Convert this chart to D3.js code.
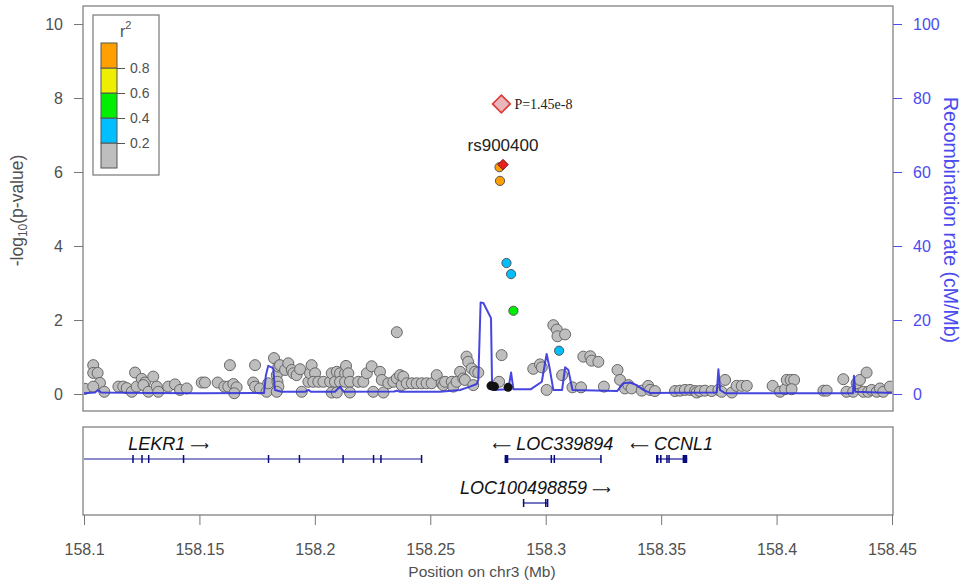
<!DOCTYPE html>
<html lang="en">
<head>
<meta charset="utf-8">
<title>rs900400 regional association plot</title>
<script src="https://cdn.jsdelivr.net/npm/d3@7"></script>
<style>
  body { margin: 0; background: #fff; }
  svg { display: block; font-family: "Liberation Sans", Arial, Helvetica, sans-serif; }
</style>
</head>
<body>
<script>

// SNPs with r2 < 0.2 (position in Mb, -log10 p)
var grayPos = [158.1004,158.1040,158.1040,158.1059,158.1069,158.1040,158.1088,158.1149,158.1170,158.1185,
  158.1207,158.1221,158.1228,158.1250,158.1264,158.1257,158.1279,158.1300,158.1315,158.1322,
  158.1365,158.1394,158.1416,158.1445,158.1510,158.1524,158.1579,158.1608,158.1625,158.1647,
  158.1661,158.1651,158.1632,158.1733,158.1741,158.1741,158.1762,158.1791,158.1798,158.1823,
  158.1835,158.1838,158.1842,158.1842,158.1835,158.1849,158.1871,158.1885,158.1900,158.1907,
  158.1921,158.1936,158.1943,158.1972,158.1979,158.1986,158.2001,158.1993,158.2015,158.2037,
  158.2066,158.2073,158.2073,158.2087,158.2095,158.2095,158.2109,158.2109,158.2131,158.2131,
  158.2135,158.2145,158.2152,158.2152,158.2188,158.2210,158.2225,158.2246,158.2253,158.2282,
  158.2290,158.2297,158.2318,158.2340,158.2355,158.2355,158.2369,158.2376,158.2383,158.2398,
  158.2420,158.2441,158.2463,158.2484,158.2506,158.2528,158.2549,158.2556,158.2564,158.2593,
  158.2600,158.2614,158.2629,158.2643,158.2650,158.2657,158.2664,158.2679,158.2686,158.2694,
  158.2708,158.2798,158.2809,158.2946,158.2975,158.2983,158.3004,158.3033,158.3048,158.3051,
  158.3084,158.3071,158.3116,158.3153,158.3163,158.3193,158.3199,158.3228,158.3252,158.3311,
  158.3322,158.3343,158.3358,158.3372,158.3416,158.3444,158.3452,158.3473,158.3560,158.3582,
  158.3603,158.3625,158.3647,158.3654,158.3668,158.3690,158.3719,158.3748,158.3762,158.3777,
  158.3806,158.3827,158.3849,158.3871,158.3983,158.4015,158.4037,158.4044,158.4061,158.4076,
  158.4065,158.4203,158.4217,158.4289,158.4303,158.4332,158.4347,158.4361,158.4376,158.4390,
  158.4397,158.4412,158.4434,158.4448,158.4462,158.4491];
var grayLogP = [0.14,0.78,0.57,0.57,0.30,0.20,0.06,0.20,0.20,0.16,
  0.06,0.58,0.20,0.41,0.31,0.24,0.06,0.47,0.20,0.06,
  0.20,0.26,0.11,0.15,0.31,0.31,0.31,0.20,0.20,0.27,
  0.18,0.02,0.78,0.31,0.78,0.20,0.15,0.06,0.29,0.97,
  0.51,0.33,0.74,0.20,0.06,0.78,0.65,0.83,0.65,0.56,
  0.51,0.67,0.06,0.33,0.56,0.78,0.56,0.33,0.33,0.33,
  0.33,0.56,0.04,0.33,0.60,0.04,0.56,0.33,0.56,0.33,
  0.76,0.56,0.33,0.04,0.33,0.33,0.56,0.75,0.06,0.60,
  0.38,0.04,0.29,0.33,1.67,0.42,0.51,0.24,0.47,0.29,
  0.29,0.29,0.29,0.29,0.29,0.51,0.29,0.24,0.33,0.33,
  0.20,0.33,0.60,0.42,0.38,1.01,0.87,0.69,0.24,0.60,
  0.58,0.33,1.05,0.68,0.80,0.72,0.11,1.86,1.74,1.56,
  1.61,0.51,0.18,0.18,1.01,1.02,0.90,0.87,0.20,0.65,
  0.38,0.15,0.24,0.15,0.09,0.22,0.11,0.08,0.08,0.09,
  0.11,0.11,0.08,0.04,0.08,0.09,0.08,0.11,0.06,0.38,
  0.04,0.22,0.22,0.22,0.22,0.06,0.13,0.38,0.38,0.38,
  0.13,0.09,0.09,0.40,0.06,0.06,0.29,0.38,0.06,0.58,
  0.06,0.11,0.06,0.15,0.06,0.20];

// SNPs without LD information
var naPos = [158.2763, 158.2778, 158.2837];
var naLogP = [0.22, 0.20, 0.18];

// SNPs in LD with the lead SNP
var ldPos = [158.2830, 158.2850, 158.3058, 158.2860, 158.2802, 158.2800];
var ldLogP = [3.54, 3.24, 1.17, 2.25, 5.76, 6.13];
var ldR2 = [0.30, 0.30, 0.30, 0.50, 0.90, 0.90];

// lead SNP and combined p-value
var leadName = "rs900400";
var leadPos = 158.2815;
var leadLogP = 6.20;
var combinedPos = 158.2808;
var combinedLogP = 7.84;
var combinedLabel = "P=1.45e-8";

// recombination rate (cM/Mb)
var recPos = [158.1000,158.1048,158.1061,158.1074,158.1286,158.1502,158.1780,158.1788,158.1798,158.1813,
  158.1820,158.1827,158.1856,158.1957,158.1972,158.1983,158.2087,158.2109,158.2126,158.2343,
  158.2355,158.2369,158.2542,158.2629,158.2672,158.2701,158.2708,158.2718,158.2730,158.2763,
  158.2768,158.2838,158.2850,158.2860,158.2936,158.2983,158.3004,158.3016,158.3033,158.3071,
  158.3084,158.3098,158.3116,158.3309,158.3336,158.3365,158.3394,158.3423,158.3452,158.3741,
  158.3748,158.3755,158.3777,158.4331,158.4335,158.4341,158.4535];
var recRate = [0.2,0.4,1.1,0.4,0.3,0.2,0.3,5.1,7.6,7.2,
  6.8,1.1,0.6,0.6,1.1,0.6,0.6,2.0,0.6,0.7,
  0.9,0.6,0.6,1.1,2.0,2.7,3.8,24.7,24.6,20.5,
  1.1,1.3,5.8,1.3,1.3,3.3,10.8,7.3,1.1,1.1,
  7.2,6.5,1.1,0.8,2.9,3.1,2.4,1.1,0.3,0.4,
  6.7,1.1,0.2,0.2,4.9,0.6,0.2];

// genes
var geneNames = ["LEKR1", "LOC339894", "CCNL1", "LOC100498859"];
var geneStart = [158.0270, 158.2822, 158.3478, 158.2901];
var geneEnd = [158.2463, 158.3240, 158.3613, 158.3009];
var geneStrand = ["+", "-", "-", "+"];
var geneRow = [0, 0, 0, 1];
var geneExons = [
  [[158.1209,158.1213],[158.1248,158.1254],[158.1277,158.1281],[158.1428,158.1432],[158.1796,158.1800],
   [158.1930,158.1936],[158.2119,158.2123],[158.2251,158.2255],[158.2283,158.2287],[158.2459,158.2463]],
  [[158.2822,158.2838],[158.3021,158.3025],[158.3034,158.3038],[158.3236,158.3240]],
  [[158.3478,158.3488],[158.3495,158.3502],[158.3522,158.3526],[158.3531,158.3535],[158.3593,158.3613]],
  [[158.2901,158.2905],[158.2997,158.3001],[158.3005,158.3009]]
];

// ticks and legend
var xTicks = [158.1, 158.15, 158.2, 158.25, 158.3, 158.35, 158.4, 158.45];
var yTicks = [0, 2, 4, 6, 8, 10];
var recTicks = [0, 20, 40, 60, 80, 100];
var r2Breaks = [0.2, 0.4, 0.6, 0.8];
var r2Colors = ["#BEBEBE", "#00BFFF", "#00EE00", "#EEEE00", "#FFA000"];

var w = 974;
var h = 586;
var textGray = "#505050";
var axisBlue = "#4B4BEE";
var lineBlue = "#3333DD";

//Scales
var xScale = d3.scaleLinear().domain([158.1, 158.45]).range([84, 892]);
var yScale = d3.scaleLinear().domain([0, 10]).range([394, 24]);
var recScale = d3.scaleLinear().domain([0, 100]).range([394, 24]);
var colorScale = d3.scaleThreshold().domain(r2Breaks).range(r2Colors);

var frame = {left: 83, right: 893, top: 6, bottom: 411};
var genePanel = {top: 427, bottom: 515};

var svg = d3.select("body").append("svg")
  .attr("width", w)
  .attr("height", h);

svg.append("defs").append("clipPath").attr("id", "plotclip")
  .append("rect")
  .attr("x", frame.left + 1).attr("y", frame.top)
  .attr("width", frame.right - frame.left - 2).attr("height", genePanel.bottom - frame.top);

//Left axis
var yAxis = svg.append("g")
  .attr("transform", "translate(" + frame.left + ",0)")
  .call(d3.axisLeft(yScale).tickValues(yTicks).tickSize(9).tickPadding(11));
yAxis.select(".domain").remove();
yAxis.selectAll("line").attr("stroke", "#777");
yAxis.selectAll("text").attr("fill", textGray).attr("font-size", 16)
  .attr("font-family", "Liberation Sans, Arial, sans-serif");

//Right axis (recombination rate)
var rAxis = svg.append("g")
  .attr("transform", "translate(" + frame.right + ",0)")
  .call(d3.axisRight(recScale).tickValues(recTicks).tickSize(9).tickPadding(11));
rAxis.select(".domain").remove();
rAxis.selectAll("line").attr("stroke", axisBlue);
rAxis.selectAll("text").attr("fill", axisBlue).attr("font-size", 16)
  .attr("font-family", "Liberation Sans, Arial, sans-serif");

//Axis titles
var yTitle = svg.append("text")
  .attr("transform", "translate(23," + ((frame.top + frame.bottom) / 2 + 2) + ") rotate(-90)")
  .attr("text-anchor", "middle")
  .attr("fill", textGray)
  .attr("font-size", 17.5);
yTitle.append("tspan").text("-log");
yTitle.append("tspan").attr("dy", 4).attr("font-size", 12).text("10");
yTitle.append("tspan").attr("dy", -4).text("(p-value)");

svg.append("text")
  .attr("transform", "translate(944,220) rotate(90)")
  .attr("text-anchor", "middle")
  .attr("fill", axisBlue)
  .attr("font-size", 19.5)
  .text("Recombination rate (cM/Mb)");

//Gray SNPs
var plot = svg.append("g").attr("clip-path", "url(#plotclip)");

plot.selectAll("circle.gray")
  .data(d3.range(grayPos.length))
  .enter()
  .append("circle")
  .attr("class", "gray")
  .attr("cx", function(i) { return xScale(grayPos[i]); })
  .attr("cy", function(i) { return yScale(grayLogP[i]); })
  .attr("r", 5.5)
  .attr("fill", r2Colors[0])
  .attr("stroke", "#666")
  .attr("stroke-width", 1);

//Recombination line
var recLine = d3.line()
  .x(function(i) { return xScale(recPos[i]); })
  .y(function(i) { return recScale(recRate[i]); });

plot.append("path")
  .datum(d3.range(recPos.length))
  .attr("d", recLine)
  .attr("fill", "none")
  .attr("stroke", lineBlue)
  .attr("stroke-width", 2)
  .attr("stroke-linejoin", "round")
  .attr("opacity", 0.9);

//SNPs without LD info
plot.selectAll("circle.na")
  .data(d3.range(naPos.length))
  .enter()
  .append("circle")
  .attr("cx", function(i) { return xScale(naPos[i]); })
  .attr("cy", function(i) { return yScale(naLogP[i]); })
  .attr("r", 4.5)
  .attr("fill", "#111");

//SNPs coloured by r2
plot.selectAll("circle.ld")
  .data(d3.range(ldPos.length))
  .enter()
  .append("circle")
  .attr("cx", function(i) { return xScale(ldPos[i]); })
  .attr("cy", function(i) { return yScale(ldLogP[i]); })
  .attr("r", 4.6)
  .attr("fill", function(i) { return colorScale(ldR2[i]); })
  .attr("stroke", "#555")
  .attr("stroke-width", 1);

//Lead SNP
var diamond = d3.symbol().type(d3.symbolDiamond2);
svg.append("path")
  .attr("d", diamond.size(70)())
  .attr("transform", "translate(" + xScale(leadPos) + "," + yScale(leadLogP) + ")")
  .attr("fill", "#E82020")
  .attr("stroke", "#7a1a1a")
  .attr("stroke-width", 1);

svg.append("text")
  .attr("x", xScale(leadPos))
  .attr("y", yScale(leadLogP) - 14)
  .attr("text-anchor", "middle")
  .attr("fill", "#222")
  .attr("font-size", 17)
  .text(leadName);

//Combined p-value
svg.append("path")
  .attr("d", diamond.size(200)())
  .attr("transform", "translate(" + xScale(combinedPos) + "," + yScale(combinedLogP) + ")")
  .attr("fill", "#E8B6BB")
  .attr("stroke", "#E23636")
  .attr("stroke-width", 1.6);

svg.append("text")
  .attr("x", xScale(combinedPos) + 13)
  .attr("y", yScale(combinedLogP))
  .attr("dy", "0.35em")
  .attr("font-family", "Liberation Serif, Times New Roman, serif")
  .attr("font-size", 14)
  .attr("fill", "#222")
  .text(combinedLabel);

//Frames
svg.append("rect")
  .attr("x", frame.left).attr("y", frame.top)
  .attr("width", frame.right - frame.left).attr("height", frame.bottom - frame.top)
  .attr("fill", "none").attr("stroke", "#777").attr("stroke-width", 1.2);

svg.append("rect")
  .attr("x", frame.left).attr("y", genePanel.top)
  .attr("width", frame.right - frame.left).attr("height", genePanel.bottom - genePanel.top)
  .attr("fill", "none").attr("stroke", "#777").attr("stroke-width", 1.2);

//Legend
var legend = svg.append("g");
legend.append("rect")
  .attr("x", 93).attr("y", 15).attr("width", 66).attr("height", 160)
  .attr("fill", "#fff").attr("stroke", "#777").attr("stroke-width", 1.2);

var legendScale = d3.scaleLinear().domain([0, 1]).range([168, 43]);
var legendEdges = [0].concat(r2Breaks).concat([1]);

legend.selectAll("rect.bin")
  .data(r2Colors)
  .enter()
  .append("rect")
  .attr("x", 101)
  .attr("y", function(d, i) { return legendScale(legendEdges[i + 1]); })
  .attr("width", 16)
  .attr("height", function(d, i) { return legendScale(legendEdges[i]) - legendScale(legendEdges[i + 1]); })
  .attr("fill", function(d) { return d; })
  .attr("stroke", "#555")
  .attr("stroke-width", 1);

var legendAxis = legend.append("g")
  .attr("transform", "translate(117,0)")
  .call(d3.axisRight(legendScale).tickValues(r2Breaks).tickSize(8).tickPadding(5)
    .tickFormat(d3.format(".1f")));
legendAxis.select(".domain").remove();
legendAxis.selectAll("line").attr("stroke", "#555");
legendAxis.selectAll("text").attr("fill", textGray).attr("font-size", 14)
  .attr("font-family", "Liberation Sans, Arial, sans-serif");

var r2Title = legend.append("text")
  .attr("x", 120).attr("y", 37)
  .attr("fill", textGray)
  .attr("font-size", 16);
r2Title.append("tspan").text("r");
r2Title.append("tspan").attr("dy", -8).attr("font-size", 11).text("2");

//Genes
var rowLineY = function(r) { return 459 + r * 44; };
var genes = svg.append("g").attr("clip-path", "url(#plotclip)");

var gene = genes.selectAll("g.gene")
  .data(d3.range(geneNames.length))
  .enter()
  .append("g");

gene.append("line")
  .attr("x1", function(i) { return xScale(geneStart[i]); })
  .attr("x2", function(i) { return xScale(geneEnd[i]); })
  .attr("y1", function(i) { return rowLineY(geneRow[i]); })
  .attr("y2", function(i) { return rowLineY(geneRow[i]); })
  .attr("stroke", "#1a1a99")
  .attr("stroke-width", 1.2);

gene.each(function(i) {
  d3.select(this).selectAll("rect")
    .data(geneExons[i])
    .enter()
    .append("rect")
    .attr("x", function(e) { return xScale(e[0]); })
    .attr("y", rowLineY(geneRow[i]) - 4)
    .attr("width", function(e) { return Math.max(1.5, xScale(e[1]) - xScale(e[0])); })
    .attr("height", 8)
    .attr("fill", "#0b0b80");
});

var geneLabel = svg.selectAll("text.gene")
  .data(d3.range(geneNames.length))
  .enter()
  .append("text")
  .attr("x", function(i) { return xScale((geneStart[i] + geneEnd[i]) / 2); })
  .attr("y", function(i) { return rowLineY(geneRow[i]) - 9; })
  .attr("text-anchor", "middle")
  .attr("font-size", 18)
  .attr("fill", "#111");

geneLabel.each(function(i) {
  var t = d3.select(this);
  if (geneStrand[i] === "-") {
    t.append("tspan").attr("font-family", "DejaVu Sans").attr("font-size", 13).text("\u27F5");
    t.append("tspan").text(" ");
  }
  t.append("tspan").attr("font-style", "italic").text(geneNames[i]);
  if (geneStrand[i] === "+") {
    t.append("tspan").text(" ");
    t.append("tspan").attr("font-family", "DejaVu Sans").attr("font-size", 13).text("\u27F6");
  }
});

//Bottom axis
var xAxis = svg.append("g")
  .attr("transform", "translate(0," + genePanel.bottom + ")")
  .call(d3.axisBottom(xScale).tickValues(xTicks).tickSize(10).tickPadding(19)
    .tickFormat(function(d) { return d3.format("")(+d.toFixed(2)); }));
xAxis.select(".domain").remove();
xAxis.selectAll("line").attr("stroke", "#777");
xAxis.selectAll("text").attr("fill", textGray).attr("font-size", 16)
  .attr("font-family", "Liberation Sans, Arial, sans-serif");

svg.append("text")
  .attr("x", 482)
  .attr("y", 577)
  .attr("text-anchor", "middle")
  .attr("fill", textGray)
  .attr("font-size", 15.5)
  .text("Position on chr3 (Mb)");

</script>
</body>
</html>
